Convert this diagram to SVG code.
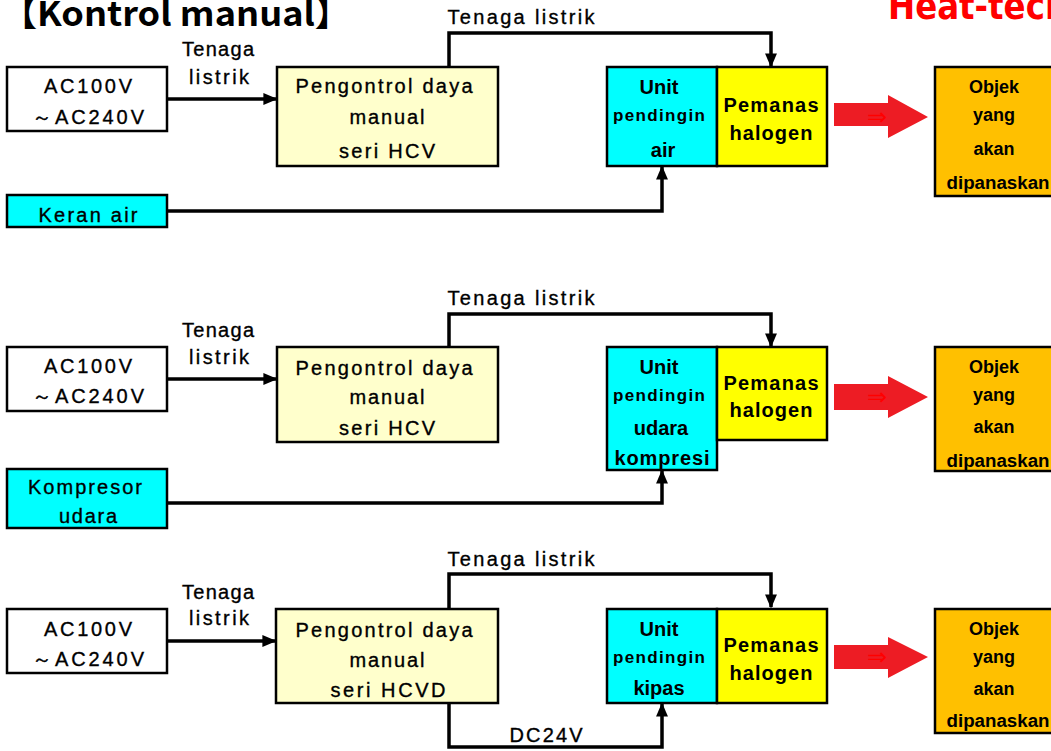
<svg xmlns="http://www.w3.org/2000/svg" width="1051" height="751" viewBox="0 0 1051 751">
<style>
.t{font-family:"Liberation Sans",Arial,sans-serif;font-size:20px;fill:#000;stroke:#000;stroke-width:0.35;text-anchor:middle}
.b{font-family:"Liberation Sans",Arial,sans-serif;font-size:17px;font-weight:bold;fill:#000;text-anchor:middle}
.L{font-size:20px}
.o{font-size:18px}
.box{stroke:#000;stroke-width:2.5}
.w{fill:#fff}.ly{fill:#FFFFCC}.cy{fill:#00FFFF}.ye{fill:#FFFF00}.or{fill:#FFC000}
.c{fill:none;stroke:#000;stroke-width:3.5}
.ra{fill:#ED1C24}
.rt{font-family:"DejaVu Sans",sans-serif;font-size:24px;fill:#FF0000;text-anchor:middle}
</style>
<defs>
<marker id="ah" markerWidth="4" markerHeight="4" refX="3.6" refY="2" orient="auto" markerUnits="strokeWidth">
<path d="M0,0.3 L4,2 L0,3.7 Z" fill="#000"/>
</marker>
</defs>
<rect width="1051" height="751" fill="#fff"/>
<text x="1" y="26" font-family="'Noto Sans CJK JP','Liberation Sans',sans-serif" font-size="34" font-weight="bold" textLength="350" lengthAdjust="spacingAndGlyphs">【Kontrol manual】</text>
<text x="888" y="19" font-family="'DejaVu Sans Condensed','Liberation Sans Narrow',sans-serif" font-size="38" font-weight="bold" fill="#FF0000" textLength="180" lengthAdjust="spacingAndGlyphs">Heat-tech</text>

<g id="connectors">
<path class="c" d="M167,99 H276" marker-end="url(#ah)"/>
<path class="c" d="M449,67 V33 H771 V66" marker-end="url(#ah)"/>
<path class="c" d="M167,211 H662 V167" marker-end="url(#ah)"/>
<path class="c" d="M167,379 H276" marker-end="url(#ah)"/>
<path class="c" d="M449,347 V314 H771 V346" marker-end="url(#ah)"/>
<path class="c" d="M167,503 H662 V471" marker-end="url(#ah)"/>
<path class="c" d="M167,641 H275" marker-end="url(#ah)"/>
<path class="c" d="M449,608 V574 H771 V607" marker-end="url(#ah)"/>
<path class="c" d="M449,704 V747 H662 V704" marker-end="url(#ah)"/>
<text class="t" x="218" y="56" textLength="72" lengthAdjust="spacing">Tenaga</text>
<text class="t" x="219" y="84" textLength="60" lengthAdjust="spacing">listrik</text>
<text class="t" x="521" y="24" textLength="147" lengthAdjust="spacing">Tenaga listrik</text>
<text class="t" x="218" y="337" textLength="72" lengthAdjust="spacing">Tenaga</text>
<text class="t" x="219" y="364" textLength="60" lengthAdjust="spacing">listrik</text>
<text class="t" x="521" y="305" textLength="147" lengthAdjust="spacing">Tenaga listrik</text>
<text class="t" x="218" y="599" textLength="72" lengthAdjust="spacing">Tenaga</text>
<text class="t" x="219" y="625" textLength="60" lengthAdjust="spacing">listrik</text>
<text class="t" x="521" y="566" textLength="147" lengthAdjust="spacing">Tenaga listrik</text>
<text class="t" x="546" y="742" textLength="73" lengthAdjust="spacing">DC24V</text>
</g>

<g id="ac1"><rect class="box w" x="7" y="67" width="160" height="64"/>
<text class="t" x="88" y="93" textLength="88" lengthAdjust="spacing">AC100V</text>
<text class="t" x="88" y="124" textLength="112" lengthAdjust="spacing">～AC240V</text></g>
<g id="ctrl1"><rect class="box ly" x="277" y="67" width="221" height="99"/>
<text class="t" x="384" y="93" textLength="177" lengthAdjust="spacing">Pengontrol daya</text>
<text class="t" x="387" y="124" textLength="75" lengthAdjust="spacing">manual</text>
<text class="t" x="387" y="158" textLength="96" lengthAdjust="spacing">seri HCV</text></g>
<g id="water1"><rect class="box cy" x="7" y="195" width="160" height="32"/>
<text class="t" x="88" y="222" textLength="99" lengthAdjust="spacing">Keran air</text></g>
<g id="cool1"><rect class="box cy" x="607" y="67" width="110" height="99"/>
<text class="b L" x="659" y="94">Unit</text>
<text class="b" x="659" y="121" textLength="92" lengthAdjust="spacing">pendingin</text>
<text class="b L" x="663" y="157">air</text></g>
<g id="heat1"><rect class="box ye" x="717" y="67" width="110" height="99"/>
<text class="b L" x="771" y="112" textLength="95" lengthAdjust="spacing">Pemanas</text>
<text class="b L" x="771" y="140" textLength="83" lengthAdjust="spacing">halogen</text></g>
<g id="flow1"><path class="ra" d="M834,103 H888 V95 L928,117 L888,138 V126 H834 Z"/>
<text class="rt" x="877" y="125">⇒</text></g>
<g id="obj1"><rect class="box or" x="935" y="67" width="125" height="129"/>
<text class="b o" x="994" y="93">Objek</text>
<text class="b o" x="994" y="121">yang</text>
<text class="b o" x="994" y="155">akan</text>
<text class="b o" x="998" y="189" textLength="103" lengthAdjust="spacingAndGlyphs">dipanaskan</text></g>

<g id="ac2"><rect class="box w" x="7" y="347" width="160" height="64"/>
<text class="t" x="88" y="373" textLength="88" lengthAdjust="spacing">AC100V</text>
<text class="t" x="88" y="403" textLength="112" lengthAdjust="spacing">～AC240V</text></g>
<g id="ctrl2"><rect class="box ly" x="277" y="347" width="221" height="95"/>
<text class="t" x="384" y="375" textLength="177" lengthAdjust="spacing">Pengontrol daya</text>
<text class="t" x="387" y="404" textLength="75" lengthAdjust="spacing">manual</text>
<text class="t" x="387" y="435" textLength="96" lengthAdjust="spacing">seri HCV</text></g>
<g id="comp2"><rect class="box cy" x="7" y="469" width="160" height="59"/>
<text class="t" x="85" y="494" textLength="114" lengthAdjust="spacing">Kompresor</text>
<text class="t" x="88" y="523" textLength="58" lengthAdjust="spacing">udara</text></g>
<g id="cool2"><rect class="box cy" x="607" y="347" width="110" height="123"/>
<text class="b L" x="659" y="374">Unit</text>
<text class="b" x="659" y="401" textLength="92" lengthAdjust="spacing">pendingin</text>
<text class="b L" x="661" y="435">udara</text>
<text class="b L" x="662" y="465" textLength="95" lengthAdjust="spacing">kompresi</text></g>
<g id="heat2"><rect class="box ye" x="717" y="347" width="110" height="93"/>
<text class="b L" x="771" y="390" textLength="95" lengthAdjust="spacing">Pemanas</text>
<text class="b L" x="771" y="417" textLength="83" lengthAdjust="spacing">halogen</text></g>
<g id="flow2"><path class="ra" d="M834,384 H888 V376 L928,397 L888,418 V410 H834 Z"/>
<text class="rt" x="877" y="405">⇒</text></g>
<g id="obj2"><rect class="box or" x="935" y="347" width="125" height="124"/>
<text class="b o" x="994" y="373">Objek</text>
<text class="b o" x="994" y="401">yang</text>
<text class="b o" x="994" y="433">akan</text>
<text class="b o" x="998" y="467" textLength="103" lengthAdjust="spacingAndGlyphs">dipanaskan</text></g>

<g id="ac3"><rect class="box w" x="7" y="609" width="160" height="64"/>
<text class="t" x="88" y="636" textLength="88" lengthAdjust="spacing">AC100V</text>
<text class="t" x="88" y="666" textLength="112" lengthAdjust="spacing">～AC240V</text></g>
<g id="ctrl3"><rect class="box ly" x="276" y="609" width="222" height="94"/>
<text class="t" x="384" y="637" textLength="177" lengthAdjust="spacing">Pengontrol daya</text>
<text class="t" x="387" y="667" textLength="75" lengthAdjust="spacing">manual</text>
<text class="t" x="388" y="697" textLength="115" lengthAdjust="spacing">seri HCVD</text></g>
<g id="cool3"><rect class="box cy" x="607" y="609" width="110" height="94"/>
<text class="b L" x="659" y="636">Unit</text>
<text class="b" x="659" y="663" textLength="92" lengthAdjust="spacing">pendingin</text>
<text class="b L" x="659" y="695">kipas</text></g>
<g id="heat3"><rect class="box ye" x="717" y="609" width="110" height="94"/>
<text class="b L" x="771" y="652" textLength="95" lengthAdjust="spacing">Pemanas</text>
<text class="b L" x="771" y="680" textLength="83" lengthAdjust="spacing">halogen</text></g>
<g id="flow3"><path class="ra" d="M834,645 H888 V637 L928,657 L888,678 V669 H834 Z"/>
<text class="rt" x="877" y="665">⇒</text></g>
<g id="obj3"><rect class="box or" x="935" y="609" width="125" height="124"/>
<text class="b o" x="994" y="635">Objek</text>
<text class="b o" x="994" y="663">yang</text>
<text class="b o" x="994" y="695">akan</text>
<text class="b o" x="998" y="727" textLength="103" lengthAdjust="spacingAndGlyphs">dipanaskan</text></g>
</svg>
